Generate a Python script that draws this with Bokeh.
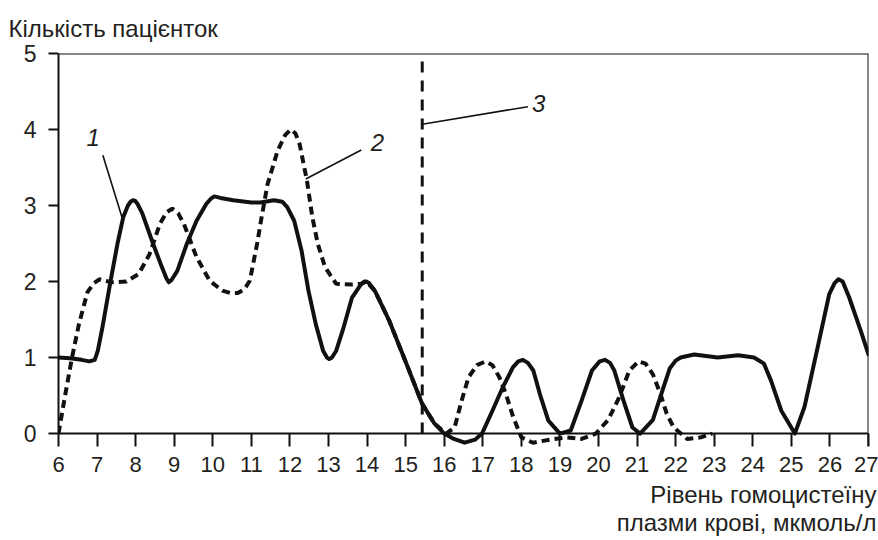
from bokeh.plotting import figure
from bokeh.models import Range1d, Span, Title, FixedTicker
from bokeh.core.properties import value
from bokeh.embed import file_html
from bokeh.resources import INLINE

# ---- data ----
x_ticks = list(range(6, 28))
y_ticks = [0, 1, 2, 3, 4, 5]

# curve 1 (solid)
solid_x = [6.0, 6.3, 6.6, 6.8, 6.94, 7.02, 7.14, 7.34, 7.53, 7.68, 7.8, 7.87, 7.93, 7.99, 8.05, 8.17,
           8.45, 8.68, 8.8, 8.86, 8.93, 9.08, 9.33, 9.58, 9.83, 9.95, 10.04, 10.2, 10.53, 11.0, 11.23, 11.59,
           11.8, 11.93, 12.11, 12.3, 12.48, 12.67, 12.86, 12.96, 13.02, 13.09, 13.2, 13.37, 13.61, 13.85,
           13.93, 13.98, 14.05, 14.2, 14.57, 15.02, 15.43, 15.75, 16.0, 16.25, 16.53, 16.8, 16.98,
           17.25, 17.51, 17.78, 17.92, 18.04, 18.17, 18.31, 18.48, 18.7, 19.0, 19.28, 19.56, 19.83,
           20.03, 20.17, 20.3, 20.41, 20.65, 20.88, 21.08, 21.41, 21.68, 21.85, 22.0, 22.13, 22.48, 23.09,
           23.62, 24.03, 24.29, 24.47, 24.74, 25.09, 25.34, 25.68, 25.98, 26.12, 26.22, 26.33, 26.5,
           26.8, 27.0]
solid_y = [1.0, 0.99, 0.97, 0.95, 0.97, 1.09, 1.40, 1.98, 2.5, 2.85, 3.0, 3.05, 3.07, 3.06, 3.02, 2.9,
           2.5, 2.19, 2.04, 1.99, 2.02, 2.14, 2.5, 2.8, 3.02, 3.09, 3.12, 3.1, 3.07, 3.04, 3.04, 3.07,
           3.05, 2.98, 2.8, 2.41, 1.88, 1.44, 1.09, 1.0, 0.98, 1.0, 1.09, 1.36, 1.79, 1.97,
           2.0, 2.0, 1.98, 1.88, 1.49, 0.92, 0.39, 0.13, 0.0, -0.07, -0.12, -0.08, 0.0,
           0.3, 0.6, 0.87, 0.95, 0.97, 0.93, 0.83, 0.52, 0.17, 0.0, 0.04, 0.43, 0.83,
           0.95, 0.97, 0.93, 0.83, 0.43, 0.08, 0.0, 0.18, 0.6, 0.86, 0.96, 1.0, 1.04, 1.0,
           1.03, 1.0, 0.92, 0.7, 0.3, 0.0, 0.35, 1.13, 1.83, 1.98, 2.03, 2.0, 1.79,
           1.35, 1.04]

# curve 2 (dashed)
dash_x = [6.0, 6.16, 6.35, 6.53, 6.75, 6.92, 7.06, 7.37, 7.76, 8.08, 8.36, 8.63, 8.8, 8.95, 9.1, 9.25,
          9.58, 9.92, 10.25, 10.45, 10.65, 10.82, 10.96, 11.15, 11.25, 11.42, 11.68, 11.88, 12.02, 12.14, 12.25,
          12.44, 12.58, 12.72, 12.91, 13.2, 13.61, 13.85, 13.98, 14.2, 14.57, 15.02,
          15.43, 15.75, 16.05, 16.27, 16.45, 16.63, 16.85, 17.07, 17.25, 17.43, 17.6, 17.78, 18.0,
          18.3, 18.73, 19.18, 19.56, 19.93, 20.25, 20.53, 20.8, 21.04, 21.22, 21.41, 21.62,
          21.77, 21.95, 22.3, 22.65, 22.95]
dash_y = [0.0, 0.47, 1.0, 1.44, 1.86, 1.98, 2.03, 1.99, 2.0, 2.1, 2.36, 2.76, 2.91, 2.96, 2.9, 2.76,
          2.32, 2.01, 1.88, 1.85, 1.85, 1.9, 2.01, 2.5, 2.8, 3.28, 3.72, 3.93, 4.0, 3.95, 3.81,
          3.33, 2.85, 2.5, 2.19, 1.97, 1.96, 1.97, 2.0, 1.88, 1.49, 0.92,
          0.39, 0.13, 0.0, 0.08, 0.43, 0.74, 0.9, 0.95, 0.9, 0.74, 0.52, 0.23, -0.05,
          -0.12, -0.08, -0.05, -0.07, 0.0, 0.18, 0.47, 0.83, 0.95, 0.92, 0.78, 0.5,
          0.26, 0.08, -0.07, -0.05, 0.0]

# line 3 (threshold)
threshold_x = 15.43
threshold_y = [0, 5]

# annotation numbers and their leader lines (data units)
note_text = ["1", "2", "3"]
note_x = [6.9, 14.27, 18.45]
note_y = [3.89, 3.83, 4.34]
lead_x0 = [7.15, 13.85, 18.17]
lead_y0 = [3.66, 3.73, 4.30]
lead_x1 = [7.68, 12.41, 15.43]
lead_y1 = [2.79, 3.35, 4.07]

y_title = "Кількість пацієнток"
x_title_1 = "Рівень гомоцистеїну"
x_title_2 = "плазми крові, мкмоль/л"

INK = "#111111"
TXT = "#231f20"
FONT = "Liberation Sans"

p = figure(width=878, height=540, output_backend="svg", toolbar_location=None,
           x_range=Range1d(6, 27), y_range=Range1d(-0.17, 5),
           min_border_left=58, min_border_right=10, min_border_top=53,
           min_border_bottom=94)
p.xgrid.visible = False
p.ygrid.visible = False
p.outline_line_color = None
p.background_fill_color = "white"

# y title as the plot title (top-left)
p.title.text = y_title
p.title.align = "left"
p.title.offset = -50
p.title.standoff = 23
p.title.text_font = FONT
p.title.text_font_size = "24px"
p.title.text_font_style = "normal"
p.title.text_color = TXT

xa = p.xaxis[0]
xa.ticker = FixedTicker(ticks=x_ticks)
xa.axis_line_color = None
xa.major_tick_in = 13
xa.major_tick_out = 0
xa.minor_tick_out = 0
xa.minor_tick_in = 0
xa.major_tick_line_width = 2
xa.major_tick_line_color = INK
xa.major_label_text_font = FONT
xa.major_label_text_font_size = "22px"
xa.major_label_text_color = TXT
xa.major_label_standoff = 10

ya = p.yaxis[0]
ya.ticker = FixedTicker(ticks=y_ticks)
ya.bounds = (0, 5)
ya.major_tick_out = 10
ya.major_tick_in = 0
ya.minor_tick_out = 0
ya.minor_tick_in = 0
ya.axis_line_width = 2
ya.axis_line_color = INK
ya.major_tick_line_width = 2
ya.major_tick_line_color = INK
ya.major_label_text_font = FONT
ya.major_label_text_font_size = "23px"
ya.major_label_text_color = TXT
ya.major_label_standoff = 12

# x-axis titles (two lines, right aligned) below the axis
for t, sd in ((x_title_1, 8), (x_title_2, -9)):
    p.add_layout(Title(text=t, align="right", offset=-8, standoff=sd, text_font=FONT,
                       text_font_size="24px", text_font_style="normal", text_color=TXT),
                 "below")

# frame lines: zero line, top and right
p.add_layout(Span(location=0, dimension="width", line_color=INK, line_width=2))
p.add_layout(Span(location=5, dimension="width", line_color=INK, line_width=2))
p.add_layout(Span(location=27, dimension="height", line_color=INK, line_width=2))

# curves
p.line(dash_x, dash_y, line_width=4, line_color=INK, line_dash="8 5")
p.line(solid_x, solid_y, line_width=4, line_color=INK, line_join="round", line_cap="round")
p.line([threshold_x, threshold_x], threshold_y, line_width=3, line_color=INK, line_dash="11 8")

# leaders and numbers
p.segment(x0=lead_x0, y0=lead_y0, x1=lead_x1, y1=lead_y1, line_color=INK, line_width=1.6)
p.text(x=note_x, y=note_y, text=note_text, text_font=value(FONT), text_font_style="italic",
       text_font_size="24px", text_color=TXT, text_align="center", text_baseline="middle")

open("out.html", "w").write(file_html(p, INLINE))
